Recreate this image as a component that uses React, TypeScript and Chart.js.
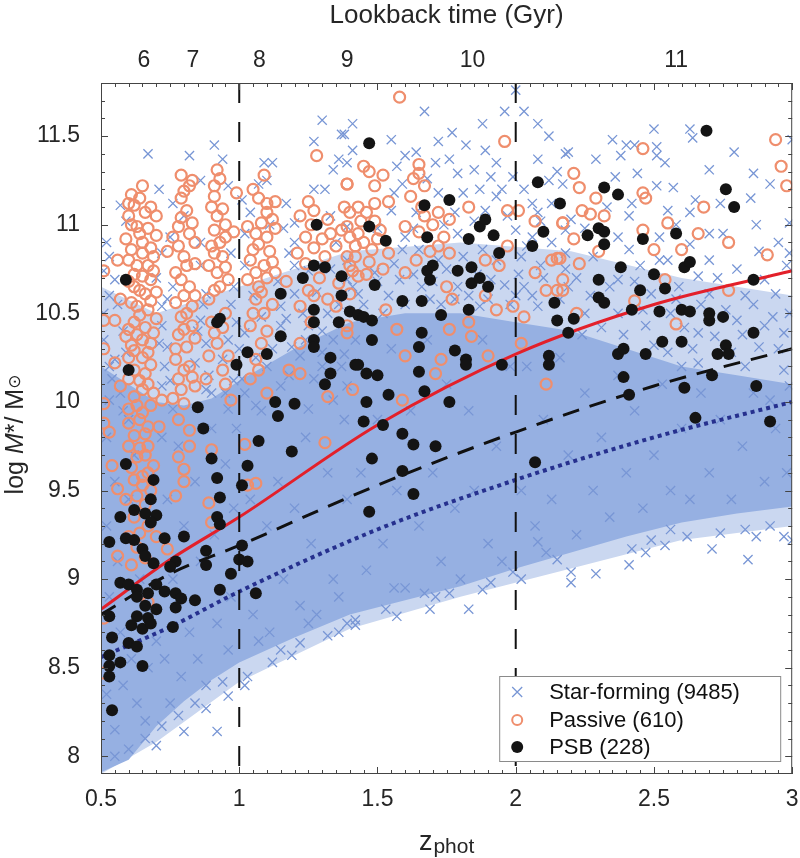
import { useEffect, useRef } from "react";
import { Chart, registerables } from "chart.js";

Chart.register(...registerables);

// axis ticks
const zTicks = [0.5, 1, 1.5, 2, 2.5, 3];
const massTicks = [8, 8.5, 9, 9.5, 10, 10.5, 11, 11.5];
const lookbackZ = [0.655, 0.832, 1.073, 1.39, 1.844, 2.58];
const lookbackLabels = ["6", "7", "8", "9", "10", "11"];
const epochBreaks = [1, 2];

const seriesNames = ["Star-forming (9485)", "Passive (610)", "PSB (228)"];

// dense core of the star-forming cloud (upper / lower edge)
const sfCoreZ = [0.5, 0.6, 0.7, 0.8, 0.9, 1.0, 1.2, 1.4, 1.6, 1.8, 2.0, 2.2, 2.4, 2.6, 2.8, 3.0];
const sfCoreHigh = [10.2, 10.1, 10.0, 9.98, 10.02, 10.12, 10.3, 10.45, 10.5, 10.5, 10.45, 10.4, 10.3, 10.2, 10.15, 10.1];
const sfCoreLow = [7.91, 7.98, 8.17, 8.31, 8.43, 8.53, 8.67, 8.8, 8.88, 8.96, 9.06, 9.15, 9.24, 9.32, 9.37, 9.41];

// looser outskirts of the star-forming cloud
const sfHaloZ = [0.5, 0.7, 1.0, 1.4, 1.8, 2.2, 2.6, 3.0];
const sfHaloHigh = [10.65, 10.5, 10.65, 10.85, 10.9, 10.85, 10.7, 10.6];
const sfHaloLow = [7.9, 8.08, 8.42, 8.72, 8.9, 9.06, 9.22, 9.3];

// mass completeness curves
const curveZ = [0.5, 0.75, 1, 1.5, 2, 2.5, 3];
const redLimit = [8.83, 9.11, 9.35, 9.87, 10.27, 10.55, 10.74];
const dashedLimit = [8.8, 9.03, 9.19, 9.53, 9.83, 10.09, 10.3];
const dottedLimit = [8.56, 8.73, 8.93, 9.28, 9.56, 9.8, 10.0];

// star-forming galaxies (outskirts and a sample inside the dense core)
const starForming = [
  [0.67,11.4],[0.82,11.39],[0.91,11.45],[0.94,11.37],[0.96,11.22],[1.3,11.59],[1.27,11.47],[1.38,11.51],[1.36,11.37],[1.34,11.31],
  [1.09,11.35],[1.12,11.35],[1.07,11.23],[1.1,11.25],[1.27,11.2],[1.31,11.2],[0.57,11.11],[0.59,11.02],[0.76,11.12],[0.8,11.05],
  [1.01,11.14],[1.04,11.07],[1.17,11.12],[1.2,11.01],[1.33,11.05],[1.39,10.99],[0.51,10.74],[0.55,10.69],[0.72,10.84],[0.86,10.77],
  [0.97,10.84],[1.02,10.77],[1.18,10.84],[1.2,10.77],[0.53,10.6],[0.72,10.54],[0.76,10.65],[0.88,10.61],[0.98,10.65],[1.15,10.54],
  [1.2,10.61],[1.32,10.5],[1.39,10.69],[0.51,10.5],[0.72,10.43],[0.86,10.46],[1.02,10.39],[1.15,10.43],[1.25,10.43],[1.34,10.35],
  [0.51,10.35],[0.74,10.31],[0.88,10.33],[0.96,10.35],[1.19,10.31],[1.3,10.28],[0.55,10.24],[0.73,10.2],[0.84,10.22],[0.94,10.24],
  [1.1,10.2],[1.22,10.26],[1.37,10.2],[0.54,10.13],[0.72,10.09],[0.88,10.07],[1.01,10.13],[1.15,10.09],[1.27,10.13],[1.39,10.09],
  [0.53,10.01],[0.76,9.96],[0.96,9.96],[1.06,9.98],[1.25,9.96],[1.34,10.01],
  [1.67,11.64],[1.96,11.64],[2.03,11.64],[2.0,11.76],[1.41,11.57],[1.55,11.48],[1.77,11.52],[1.72,11.47],[1.82,11.45],[1.88,11.57],
  [2.08,11.57],[2.12,11.5],[1.37,11.51],[1.41,11.42],[1.6,11.39],[1.64,11.41],[1.89,11.42],[1.93,11.35],[2.08,11.37],[2.18,11.4],
  [1.39,11.35],[1.57,11.33],[1.71,11.35],[1.76,11.37],[1.79,11.29],[1.85,11.31],[1.91,11.27],[1.99,11.27],[2.03,11.2],[2.12,11.25],
  [1.59,11.23],[1.72,11.18],[1.87,11.2],[1.93,11.16],[2.06,11.12],[2.13,11.12],[1.55,11.08],[1.64,11.07],[1.78,11.07],[1.89,11.08],
  [2.08,11.07],[2.18,10.97],[1.6,10.93],[1.79,10.95],[2.0,10.97],[2.06,10.93],[1.59,10.86],[1.72,10.8],[1.88,10.86],[2.02,10.82],
  [2.09,10.77],[2.18,10.84],[1.39,10.8],[1.49,10.73],[1.58,10.69],[1.66,10.65],[1.79,10.65],[1.91,10.69],[2.03,10.65],[2.19,10.65],
  [1.43,10.61],[1.54,10.6],[1.69,10.58],[1.87,10.54],[2.0,10.6],[2.08,10.54],
  [2.5,11.54],[2.63,11.54],[2.64,11.49],[2.35,11.48],[2.4,11.45],[2.43,11.45],[2.51,11.44],[2.19,11.41],[2.79,11.41],[2.29,11.37],
  [2.38,11.39],[2.51,11.39],[2.54,11.35],[2.7,11.31],[2.86,11.29],[2.92,11.23],[3.0,11.48],[2.17,11.23],[2.36,11.27],[2.44,11.29],
  [2.51,11.22],[2.57,11.21],[2.74,11.12],[2.85,11.15],[2.42,11.12],[2.65,11.14],[2.2,11.03],[2.41,11.05],[2.55,11.08],[2.63,11.07],
  [2.7,10.95],[2.99,11.01],[2.37,10.93],[2.52,10.93],[2.41,10.86],[2.63,10.89],[2.7,10.8],[2.99,10.84],[2.45,10.77],[2.55,10.8],
  [2.66,10.71],[2.8,10.75],[2.9,10.69],[2.98,10.77],[2.37,10.69],[2.49,10.61],[2.59,10.65],[2.7,10.61],[2.83,10.6],[2.94,10.61],
  [2.99,10.5],[2.27,10.6],[2.37,10.5],[2.56,10.5],[2.8,10.46],[2.9,10.43],[2.47,10.43],[2.66,10.39],[2.88,10.31],[2.97,10.39],
  [2.72,10.37],[2.55,10.28],[2.83,10.2],[2.97,10.18],[2.66,10.22],[2.92,10.01],[2.99,10.09],
  [1.42,8.74],[1.42,8.77],[1.36,8.7],[1.53,8.83],[1.57,8.79],[1.69,8.83],[1.67,8.92],[1.83,8.83],[1.76,8.92],[1.88,8.94],
  [1.91,8.98],[2.02,9.0],[1.99,9.04],[2.11,9.15],[2.15,9.11],[2.2,9.04],[2.2,8.98],[2.29,9.03],[2.41,9.08],[2.42,9.17],
  [2.47,9.15],[2.54,9.19],[2.62,9.24],[2.71,9.17],[2.74,9.26],[2.84,9.11],[2.87,9.24],[2.83,9.28],[2.92,9.3],[2.97,9.24],
  [3.0,9.22],[2.08,9.21],[2.49,9.22],[2.56,9.28],
  [0.8,8.14],[0.92,8.14],[0.96,8.34],[0.94,8.42],[1.03,8.45],[1.12,8.53],[1.19,8.57],[1.22,8.64],[1.32,8.68],[1.39,8.75],
  [0.84,8.3],[0.78,8.23],[0.72,8.17],[0.66,8.1],[0.6,8.04],[0.55,8.0],[0.7,8.06],[0.88,8.27],[1.02,8.4],[1.15,8.6],
  [0.52,10.9],[0.56,10.55],[0.58,10.4],[0.53,10.2],[0.57,10.05],[0.7,10.7],[0.74,10.58],[0.71,10.33],[0.75,10.12],[0.86,10.9],
  [0.87,10.55],[0.85,10.4],[0.89,10.15],[0.9,10.05],[0.97,10.55],[0.99,10.45],[1.0,10.3],[0.98,10.12],[0.95,10.05],[0.75,10.93],
  [0.71,11.2],[0.86,11.25],[0.53,10.82],[0.59,10.28],
  [1.05,10.6],[1.08,10.48],[1.12,10.3],[1.14,10.68],[1.17,10.47],[1.2,10.9],[1.23,10.5],[1.25,10.74],[1.28,10.62],[1.3,10.4],
  [1.33,10.75],[1.36,10.55],[1.38,10.27],[1.02,10.95],[1.16,10.98],[1.24,10.35],[1.35,10.9],[1.06,10.25],[1.11,11.0],
  [1.41,10.65],[1.45,10.55],[1.5,10.68],[1.52,10.5],[1.56,10.78],[1.6,10.55],[1.63,10.72],[1.65,10.86],[1.7,10.68],[1.73,10.55],
  [1.75,10.75],[1.78,10.58],[1.81,10.82],[1.83,10.6],[1.86,10.72],[1.9,10.58],[1.93,10.8],[1.96,10.66],[1.98,10.55],[2.01,10.72],
  [2.04,10.88],[2.06,10.6],[2.1,10.7],[2.13,10.9],[2.16,10.58],[2.18,10.75],[1.5,10.98],[1.63,10.98],[1.74,11.0],[1.85,11.02],
  [1.97,11.05],[2.09,11.02],[1.56,11.18],[1.68,11.26],[1.81,11.18],[1.95,11.2],[2.15,11.3],
  [2.22,10.7],[2.25,10.5],[2.28,10.82],[2.31,10.42],[2.34,10.65],[2.39,10.38],[2.43,10.68],[2.46,10.52],[2.5,10.32],[2.52,10.8],
  [2.58,10.58],[2.61,10.42],[2.64,10.3],[2.67,10.55],[2.73,10.7],[2.76,10.52],[2.78,10.28],[2.82,10.38],[2.86,10.55],[2.88,10.85],
  [2.93,10.48],[2.95,10.3],[2.25,10.98],[2.33,11.1],[2.58,11.0],[2.75,10.95],[2.87,11.0],[2.95,10.9],[2.24,10.38],[2.6,10.2],
  [0.52,9.8],[0.55,9.55],[0.52,9.3],[0.56,9.1],[0.53,8.9],[0.57,8.7],[0.52,8.35],[0.55,8.15],[0.58,8.4],[0.6,9.9],
  [0.62,9.7],[0.6,9.45],[0.64,9.0],[0.61,8.55],[0.63,8.3],[0.67,8.5],[0.66,8.2],[0.69,9.6],[0.7,8.65],[0.58,9.95],
  [0.72,9.8],[0.74,9.45],[0.76,9.0],[0.73,8.55],[0.75,8.3],[0.78,9.75],[0.8,9.3],[0.82,8.7],[0.79,8.45],[0.84,9.55],
  [0.86,9.1],[0.85,8.55],[0.88,8.4],[0.9,9.85],[0.91,9.25],[0.92,8.75],[0.95,9.65],[0.97,8.9],[0.96,8.6],[0.99,9.85],[0.98,9.4],
  [1.02,10.05],[1.04,9.45],[1.05,8.8],[1.08,9.95],[1.1,9.3],[1.11,8.7],[1.14,9.55],[1.16,9.0],[1.18,10.15],[1.2,9.4],
  [1.22,8.85],[1.24,9.8],[1.26,9.2],[1.28,8.8],[1.3,10.2],[1.32,9.6],[1.34,9.0],[1.36,8.9],[1.38,9.9],[1.39,9.45],[1.07,8.65],[1.25,8.75],
  [1.42,10.35],[1.44,9.6],[1.46,9.05],[1.5,9.9],[1.52,9.2],[1.55,10.3],[1.57,9.5],[1.6,8.95],[1.62,9.95],[1.65,9.3],
  [1.68,10.35],[1.7,9.6],[1.73,9.1],[1.75,10.1],[1.78,9.4],[1.8,9.0],[1.83,9.95],[1.85,9.5],[1.88,10.35],[1.9,9.2],
  [1.93,9.75],[1.95,9.1],[1.98,10.2],[1.56,8.95],[1.71,8.9],
  [2.02,9.5],[2.04,10.2],[2.07,9.3],[2.1,9.9],[2.13,9.45],[2.16,10.25],[2.19,9.7],[2.22,9.25],[2.25,10.05],[2.28,9.5],
  [2.31,9.8],[2.34,9.35],[2.37,10.15],[2.4,9.6],[2.43,9.95],[2.46,9.4],[2.5,9.7],[2.53,10.1],[2.56,9.5],[2.6,9.85],
  [2.63,9.45],[2.67,10.05],[2.7,9.6],[2.74,9.9],[2.78,9.45],[2.82,9.75],[2.86,10.05],[2.9,9.55],[2.94,9.85],[2.98,9.6],
];

const passive = [
  [0.65,11.22],[0.61,11.17],[0.62,11.11],[0.66,11.07],[0.6,11.05],[0.7,11.05],[0.63,10.99],[0.67,10.98],[0.59,10.92],[0.7,10.94],
  [0.65,10.9],[0.56,10.8],[0.65,10.84],[0.63,10.77],[0.67,10.77],[0.65,10.71],[0.68,10.69],[0.62,10.65],[0.66,10.61],[0.7,10.62],
  [0.57,10.58],[0.63,10.54],[0.67,10.52],[0.55,10.46],[0.62,10.45],[0.66,10.42],[0.59,10.37],[0.65,10.35],[0.68,10.33],[0.51,10.3],
  [0.62,10.29],[0.65,10.25],[0.55,10.22],[0.62,10.18],[0.66,10.16],[0.57,10.09],[0.65,10.07],[0.69,10.05],[0.51,9.99],[0.63,9.98],
  [0.72,10.01],[0.51,10.74],[0.51,10.46],
  [0.6,11.12],[0.64,11.15],[0.68,11.1],[0.61,11.0],[0.64,10.95],[0.68,10.87],[0.61,10.86],[0.6,10.8],[0.69,10.82],[0.62,10.72],
  [0.69,10.74],[0.6,10.68],[0.64,10.63],[0.68,10.57],[0.61,10.56],[0.64,10.49],[0.7,10.47],[0.6,10.41],[0.63,10.38],[0.69,10.39],
  [0.61,10.32],[0.67,10.28],[0.6,10.25],[0.68,10.21],[0.64,10.12],[0.6,10.13],[0.67,10.1],[0.62,10.03],[0.68,9.98],[0.6,9.96],
  [0.64,9.9],[0.6,9.88],[0.66,9.82],[0.6,9.75],[0.64,9.74],[0.66,9.7],[0.61,9.63],[0.67,9.6],[0.62,9.56],[0.68,9.5],
  [0.63,9.47],[0.66,9.42],[0.62,9.35],[0.67,9.3],[0.64,9.26],[0.63,9.18],[0.66,9.12],[0.61,9.08],
  [0.79,11.28],[0.83,11.25],[0.82,11.22],[0.79,11.15],[0.81,11.08],[0.78,10.99],[0.82,10.95],[0.76,10.93],[0.84,10.9],[0.74,10.85],
  [0.8,10.82],[0.84,10.78],[0.77,10.73],[0.82,10.65],[0.8,10.6],[0.83,10.54],[0.79,10.48],[0.83,10.43],[0.78,10.38],[0.81,10.31],
  [0.77,10.24],[0.82,10.2],[0.78,10.13],[0.84,10.09],[0.76,10.02],[0.8,9.99],[0.88,10.13],
  [0.8,11.19],[0.79,11.04],[0.83,11.01],[0.78,10.88],[0.81,10.77],[0.79,10.69],[0.84,10.6],[0.77,10.56],[0.81,10.5],[0.8,10.41],
  [0.84,10.36],[0.77,10.3],[0.8,10.18],[0.83,10.14],[0.79,10.07],[0.78,9.9],[0.82,9.84],[0.8,9.55],
  [0.92,11.31],[0.91,11.22],[0.91,11.16],[0.94,11.09],[0.92,11.05],[0.91,10.97],[0.95,10.93],[0.9,10.88],[0.98,10.96],[0.94,10.82],
  [0.89,10.77],[0.92,10.73],[0.96,10.69],[0.91,10.63],[0.99,11.18],[0.89,10.58],[0.95,10.5],[0.91,10.39],[0.96,10.26],[0.94,10.18],
  [0.97,10.01],[0.89,10.26],
  [0.93,11.26],[0.9,11.1],[0.95,11.0],[0.93,10.9],[0.91,10.84],[0.95,10.76],[0.93,10.65],[0.9,10.45],[0.94,10.42],[0.92,10.33],[0.95,10.1],
  [1.09,11.28],[1.07,11.15],[1.1,11.12],[1.13,11.13],[1.1,11.07],[1.08,11.01],[1.13,10.98],[1.03,10.99],[1.07,10.89],[1.11,10.85],
  [1.04,10.8],[1.09,10.77],[1.13,10.73],[1.03,10.69],[1.07,10.65],[1.17,10.68],[1.06,10.58],[1.09,10.5],[1.04,10.43],[1.08,10.33],
  [1.06,10.24],[1.04,10.13],[1.1,10.05],[1.18,10.18],
  [1.05,11.2],[1.12,11.03],[1.06,10.95],[1.1,10.93],[1.05,10.86],[1.12,10.79],[1.06,10.73],[1.1,10.7],[1.08,10.62],[1.12,10.55],
  [1.05,10.5],[1.1,10.4],[1.07,10.18],
  [1.28,11.39],[1.25,11.13],[1.22,11.05],[1.27,11.08],[1.39,11.23],[1.38,11.1],[1.32,11.03],[1.24,10.93],[1.3,10.92],[1.37,10.97],
  [1.21,10.84],[1.31,10.82],[1.39,10.82],[1.25,10.63],[1.22,10.54],[1.32,10.58],[1.4,10.61],[1.22,10.33],[1.39,10.39],[1.32,10.03],
  [1.22,10.16],
  [1.26,11.0],[1.33,10.95],[1.27,10.87],[1.35,10.88],[1.24,10.78],[1.29,10.7],[1.36,10.67],[1.27,10.6],[1.35,10.54],[1.26,10.45],
  [0.65,9.94],[0.67,9.86],[0.62,9.81],[0.67,9.75],[0.63,9.69],[0.69,9.64],[0.65,9.58],[0.65,9.53],[0.53,9.83],[0.54,9.64],
  [0.56,9.51],[0.59,9.45],[0.78,9.69],[0.8,9.62],[0.77,9.47],[0.82,9.75],[0.71,9.86],[0.9,9.73],[1.03,9.53],[1.02,9.76],
  [1.06,9.54],[1.31,9.77],[0.6,9.24],[0.7,9.24],[0.51,8.78],[0.51,8.47],[0.56,9.13],[0.67,8.87],[0.74,9.17],[0.51,9.88],
  [0.89,9.43],[0.9,9.32],
  [1.58,11.72],[1.96,11.47],[1.47,11.3],[1.52,11.28],[1.39,11.23],[1.49,11.22],[1.65,11.34],[1.63,11.26],[1.67,11.22],[1.43,11.1],
  [1.4,11.07],[1.46,11.07],[1.54,11.13],[1.39,10.99],[1.43,10.95],[1.51,10.97],[1.42,10.88],[1.48,10.86],[1.54,10.84],[1.6,10.99],
  [1.67,11.05],[1.72,11.07],[1.76,11.03],[1.83,11.1],[1.97,11.08],[2.01,11.08],[2.07,11.02],[2.13,10.8],[2.15,10.81],[2.17,11.01],
  [1.64,10.8],[1.72,10.88],[1.76,10.84],[1.89,10.8],[1.94,10.77],[1.97,10.88],[1.43,10.71],[1.4,10.77],[1.52,10.75],[1.6,10.73],
  [1.75,10.65],[1.77,10.58],[1.89,10.6],[1.93,10.52],[1.99,10.54],[2.03,10.48],[2.07,10.73],[2.11,10.63],[2.15,10.63],[1.53,10.52],
  [1.57,10.41],[1.39,10.43],[1.76,10.41],[1.83,10.45],[1.84,10.37],[1.9,10.26],[2.02,10.33],[2.11,10.1],[1.6,10.26],[1.73,10.24],
  [1.41,10.07],[1.59,10.01],[1.71,10.16],[1.45,11.33],[1.49,11.12],
  [1.4,10.93],[1.45,10.9],[1.42,10.82],[1.47,10.79],[1.5,10.92],[1.44,11.02],[1.49,11.02],[1.41,10.74],[1.46,10.72],
  [1.65,11.29],[1.62,11.16],[1.66,11.1],[1.7,11.0],[1.65,10.96],[1.69,10.85],[1.74,10.93],
  [2.94,11.48],[2.96,11.33],[2.98,11.22],[2.46,11.43],[2.21,11.29],[2.23,11.21],[2.29,11.15],[2.24,11.08],[2.27,11.06],[2.32,11.05],
  [2.46,11.18],[2.47,11.15],[2.17,11.01],[2.21,10.92],[2.3,10.85],[2.16,10.81],[2.23,10.78],[2.46,10.97],[2.5,10.86],[2.55,11.01],
  [2.6,10.86],[2.66,10.95],[2.68,11.1],[2.77,10.9],[2.91,10.83],[2.17,10.69],[2.17,10.63],[2.54,10.69],[2.43,10.57],[2.77,10.63],
  [2.22,10.5],[2.58,10.44],
];

const psb = [
  [1.28,11.0],[0.59,10.69],[1.27,10.77],[1.31,10.76],[1.23,10.7],[1.37,10.71],[1.15,10.61],[1.37,10.6],[1.27,10.52],[1.27,10.45],
  [1.36,10.45],[1.4,10.51],[0.93,10.47],[0.92,10.45],[1.15,10.37],[1.27,10.35],[1.27,10.31],[1.03,10.28],[1.1,10.27],[1.33,10.25],
  [0.6,10.18],[0.99,10.21],[1.33,10.16],[1.31,10.1],[0.85,9.97],[1.13,10.0],[1.2,9.99],[1.14,9.92],[1.42,10.21],
  [0.87,9.85],[1.07,9.78],[1.19,9.72],[0.59,9.65],[0.9,9.68],[1.03,9.64],[0.69,9.56],[0.92,9.57],[1.01,9.53],[0.68,9.45],
  [0.93,9.46],[0.62,9.39],[0.66,9.37],[0.7,9.36],[0.57,9.35],[0.68,9.32],[0.92,9.35],[0.93,9.31],[0.53,9.21],[0.59,9.23],
  [0.62,9.22],[0.73,9.23],[0.8,9.24],[0.65,9.17],[0.66,9.13],[0.69,9.09],[0.88,9.16],[0.88,9.08],[1.01,9.19],[1.0,9.11],
  [1.03,9.1],[0.97,9.03],[0.77,9.1],[0.75,9.07],[0.57,8.98],[0.6,8.97],[0.63,8.94],[0.67,8.92],[0.7,8.97],[0.73,8.93],
  [0.77,8.92],[0.79,8.89],[0.77,8.84],[0.84,8.88],[0.93,8.94],[1.06,8.92],[0.63,8.9],[0.66,8.85],[0.7,8.83],[0.63,8.79],
  [0.67,8.78],[0.61,8.74],[0.65,8.72],[0.68,8.75],[0.53,8.79],[0.54,8.67],[0.76,8.73],[0.6,8.64],[0.63,8.62],[0.53,8.57],
  [0.57,8.53],[0.53,8.51],[0.53,8.45],[0.65,8.51],[0.54,8.26],
  [1.47,11.46],[2.08,11.24],[2.16,11.12],[1.67,11.11],[1.76,11.14],[1.47,10.99],[1.53,10.91],[1.68,10.93],[1.87,10.99],[1.89,11.03],
  [1.83,10.92],[1.92,10.94],[1.94,10.84],[2.1,10.96],[2.06,10.88],[1.7,10.77],[1.68,10.74],[1.69,10.69],[1.79,10.74],[1.84,10.76],
  [1.84,10.67],[1.87,10.7],[1.9,10.65],[1.49,10.66],[1.59,10.57],[1.66,10.57],[1.43,10.49],[1.45,10.48],[1.48,10.46],[1.73,10.49],
  [1.83,10.52],[1.48,10.35],[2.14,10.56],[2.15,10.46],[2.12,10.26],[2.12,10.21],[1.66,10.39],[1.65,10.31],[1.78,10.29],[1.82,10.24],
  [1.82,10.21],[1.95,10.21],[1.43,10.21],[1.46,10.16],[1.5,10.15],[1.65,10.17],[1.54,10.04],[1.67,10.06],[1.46,10.0],[1.76,10.0],
  [1.45,9.89],[1.52,9.87],[1.59,9.82],[1.63,9.76],[1.71,9.75],[2.19,10.39],
  [2.69,11.53],[2.76,11.2],[2.79,11.1],[2.32,11.21],[2.37,11.17],[2.26,10.94],[2.3,10.98],[2.32,10.96],[2.32,10.89],[2.46,10.92],
  [2.58,10.95],[2.38,10.76],[2.61,10.76],[2.63,10.79],[2.3,10.69],[2.5,10.72],[2.45,10.63],[2.54,10.64],[2.3,10.59],[2.32,10.56],
  [2.21,10.47],[2.42,10.52],[2.52,10.51],[2.6,10.52],[2.63,10.51],[2.7,10.46],[2.7,10.5],[2.75,10.48],[2.86,10.69],[2.86,10.39],
  [2.37,10.27],[2.39,10.3],[2.47,10.27],[2.53,10.34],[2.6,10.34],[2.73,10.27],[2.76,10.32],[2.77,10.27],[2.39,10.14],[2.41,10.04],
  [2.61,10.08],[2.71,10.15],[2.87,10.09],[2.65,9.91],[2.92,9.89],
  [1.48,9.68],[1.59,9.61],[1.63,9.48],[1.47,9.38],[2.07,9.66],
];

const FONT = '"Liberation Sans", Arial, Helvetica, sans-serif';
const INK = "#262626";
const SF_COLOR = "rgb(120,150,213)";
const SF_CORE = "rgb(150,176,226)";
const SF_HALO = "rgb(202,215,240)";
const PASSIVE_COLOR = "#ef8e6d";
const PSB_COLOR = "#141414";

const toPoints = (pairs: number[][]) => pairs.map(([x, y]) => ({ x, y }));
const toCurve = (xs: number[], ys: number[]) => xs.map((x, i) => ({ x, y: ys[i] }));

const bandEdge = (label: string, xs: number[], ys: number[], fill: any, color: string, order: number) => ({
  type: "line",
  label,
  data: toCurve(xs, ys),
  fill,
  backgroundColor: color,
  borderColor: "rgba(0,0,0,0)",
  borderWidth: 0,
  pointRadius: 0,
  order,
});

const decorPlugin = {
  id: "decor",
  afterDatasetsDraw(chart: any) {
    const { ctx, chartArea: a, scales } = chart;
    const xs = scales.x;
    ctx.save();
    // dashed redshift dividers
    ctx.strokeStyle = "#111";
    ctx.lineWidth = 2;
    ctx.setLineDash([20, 19]);
    for (const z of epochBreaks) {
      const px = xs.getPixelForValue(z);
      ctx.beginPath();
      ctx.moveTo(px, a.top);
      ctx.lineTo(px, a.bottom);
      ctx.stroke();
    }
    ctx.setLineDash([]);

    // legend box
    const lx = a.right - 293;
    const ly = a.bottom - 98;
    ctx.fillStyle = "#fff";
    ctx.fillRect(lx, ly, 281, 85);
    ctx.strokeStyle = "#8a8a8a";
    ctx.lineWidth = 1;
    ctx.strokeRect(lx + 0.5, ly + 0.5, 281, 85);
    const rows = [ly + 16, ly + 44, ly + 71];
    const mx = lx + 18;
    ctx.strokeStyle = SF_COLOR;
    ctx.lineWidth = 1.3;
    ctx.beginPath();
    ctx.moveTo(mx - 5, rows[0] - 5);
    ctx.lineTo(mx + 5, rows[0] + 5);
    ctx.moveTo(mx - 5, rows[0] + 5);
    ctx.lineTo(mx + 5, rows[0] - 5);
    ctx.stroke();
    ctx.strokeStyle = PASSIVE_COLOR;
    ctx.lineWidth = 2;
    ctx.beginPath();
    ctx.arc(mx, rows[1], 5, 0, Math.PI * 2);
    ctx.stroke();
    ctx.fillStyle = PSB_COLOR;
    ctx.beginPath();
    ctx.arc(mx, rows[2], 6, 0, Math.PI * 2);
    ctx.fill();
    ctx.fillStyle = "#111";
    ctx.font = `22px ${FONT}`;
    ctx.textAlign = "left";
    ctx.textBaseline = "middle";
    seriesNames.forEach((name, i) => ctx.fillText(name, lx + 50, rows[i] + 1));
    ctx.restore();
  },
  afterDraw(chart: any) {
    const { ctx, chartArea: a, scales } = chart;
    const xs = scales.x;
    const ys = scales.y;
    ctx.save();
    ctx.strokeStyle = "#444";
    ctx.lineWidth = 1;
    ctx.strokeRect(a.left + 0.5, a.top + 0.5, a.right - a.left - 1, a.bottom - a.top - 1);
    ctx.beginPath();
    for (let i = 0; i <= 50; i++) {
      const px = Math.round(xs.getPixelForValue(0.5 + i * 0.05)) + 0.5;
      const len = i % 10 === 0 ? 7 : 4;
      ctx.moveTo(px, a.bottom);
      ctx.lineTo(px, a.bottom - len);
      ctx.moveTo(px, a.top);
      ctx.lineTo(px, a.top + len);
    }
    for (let k = 80; k <= 118; k++) {
      const py = Math.round(ys.getPixelForValue(k / 10)) + 0.5;
      const len = k % 5 === 0 ? 7 : 4;
      ctx.moveTo(a.left, py);
      ctx.lineTo(a.left + len, py);
      ctx.moveTo(a.right, py);
      ctx.lineTo(a.right - len, py);
    }
    ctx.stroke();

    ctx.fillStyle = INK;
    ctx.font = `26px ${FONT}`;
    ctx.textAlign = "center";
    ctx.textBaseline = "middle";
    ctx.fillText("Lookback time (Gyr)", (a.left + a.right) / 2, 16);

    // x title: z_phot
    ctx.textAlign = "left";
    ctx.textBaseline = "alphabetic";
    const zFont = `27px ${FONT}`;
    const subFont = `21px ${FONT}`;
    ctx.font = zFont;
    const wz = ctx.measureText("z").width;
    ctx.font = subFont;
    const wp = ctx.measureText("phot").width;
    const sx = (a.left + a.right) / 2 - (wz + 1 + wp) / 2;
    ctx.font = zFont;
    ctx.fillText("z", sx, 850);
    ctx.font = subFont;
    ctx.fillText("phot", sx + wz + 1, 853);

    // y title: log M*/ M⊙
    const parts = [
      { t: "log ", f: `25px ${FONT}`, dy: 0 },
      { t: "M", f: `italic 25px ${FONT}`, dy: 0 },
      { t: "*", f: `25px ${FONT}`, dy: 0 },
      { t: "/ M", f: `25px ${FONT}`, dy: 0 },
      { t: "\u2299", f: `17px "DejaVu Sans"`, dy: -3 },
    ];
    let total = 0;
    const widths = parts.map((p) => {
      ctx.font = p.f;
      const w = ctx.measureText(p.t).width;
      total += w;
      return w;
    });
    ctx.translate(23, (a.top + a.bottom) / 2 + 6);
    ctx.rotate(-Math.PI / 2);
    let cx = -total / 2;
    parts.forEach((p, i) => {
      ctx.font = p.f;
      ctx.fillText(p.t, cx, p.dy);
      cx += widths[i];
    });
    ctx.restore();
  },
};

export default function App() {
  const canvasRef = useRef<HTMLCanvasElement>(null);

  useEffect(() => {
    document.body.style.margin = "0";
    const tickFont = { family: FONT, size: 23 };
    const chart = new Chart(canvasRef.current!, {
      type: "scatter",
      data: {
        datasets: [
          bandEdge("halo-high", sfHaloZ, sfHaloHigh, "+1", SF_HALO, 9),
          bandEdge("halo-low", sfHaloZ, sfHaloLow, false, SF_HALO, 10),
          bandEdge("core-high", sfCoreZ, sfCoreHigh, "+1", SF_CORE, 7),
          bandEdge("core-low", sfCoreZ, sfCoreLow, false, SF_CORE, 8),
          {
            label: seriesNames[0],
            data: toPoints(starForming),
            pointStyle: "crossRot",
            pointRadius: 6.5,
            borderColor: SF_COLOR,
            backgroundColor: SF_COLOR,
            borderWidth: 1.3,
            order: 5,
          },
          {
            label: seriesNames[1],
            data: toPoints(passive),
            pointStyle: "circle",
            pointRadius: 5.5,
            borderColor: PASSIVE_COLOR,
            backgroundColor: "rgba(0,0,0,0)",
            borderWidth: 2.2,
            order: 4,
          },
          {
            type: "line",
            label: "red",
            data: toCurve(curveZ, redLimit),
            borderColor: "#e3202a",
            borderWidth: 3,
            pointRadius: 0,
            cubicInterpolationMode: "monotone",
            order: 3,
          },
          {
            type: "line",
            label: "dashed",
            data: toCurve(curveZ, dashedLimit),
            borderColor: "#111",
            borderWidth: 3,
            borderDash: [17, 11],
            pointRadius: 0,
            cubicInterpolationMode: "monotone",
            order: 3,
          },
          {
            type: "line",
            label: "dotted",
            data: toCurve(curveZ, dottedLimit),
            borderColor: "#26308e",
            borderWidth: 4,
            borderDash: [4, 4],
            pointRadius: 0,
            cubicInterpolationMode: "monotone",
            order: 3,
          },
          {
            label: seriesNames[2],
            data: toPoints(psb),
            pointStyle: "circle",
            pointRadius: 6,
            borderColor: PSB_COLOR,
            backgroundColor: PSB_COLOR,
            borderWidth: 0,
            order: 1,
          },
        ],
      },
      options: {
        animation: false,
        responsive: false,
        events: [],
        layout: { padding: { left: 0, right: 5, top: 0, bottom: 0 } },
        plugins: { legend: { display: false }, tooltip: { enabled: false } },
        scales: {
          x: {
            type: "linear",
            position: "bottom",
            min: 0.5,
            max: 3,
            grid: { display: false, drawTicks: false },
            border: { display: false },
            afterBuildTicks: (s: any) => {
              s.ticks = zTicks.map((value) => ({ value }));
            },
            afterFit: (s: any) => {
              s.height = 84;
              s.paddingLeft = 0;
              s.paddingRight = 0;
            },
            ticks: {
              font: tickFont,
              color: INK,
              padding: 12,
              maxRotation: 0,
              autoSkip: false,
              callback: (v: any) => String(v),
            },
          },
          x2: {
            type: "linear",
            position: "top",
            axis: "x",
            min: 0.5,
            max: 3,
            grid: { display: false, drawTicks: false },
            border: { display: false },
            afterBuildTicks: (s: any) => {
              s.ticks = lookbackZ.map((value) => ({ value }));
            },
            afterFit: (s: any) => {
              s.height = 83;
              s.paddingLeft = 0;
              s.paddingRight = 0;
            },
            ticks: {
              font: tickFont,
              color: INK,
              padding: 9,
              maxRotation: 0,
              autoSkip: false,
              callback: (v: any) => lookbackLabels[lookbackZ.indexOf(v)] ?? "",
            },
          },
          y: {
            type: "linear",
            min: 7.9,
            max: 11.8,
            grid: { display: false, drawTicks: false },
            border: { display: false },
            afterBuildTicks: (s: any) => {
              s.ticks = massTicks.map((value) => ({ value }));
            },
            afterFit: (s: any) => {
              s.width = 101;
              s.paddingTop = 0;
              s.paddingBottom = 0;
            },
            ticks: {
              font: tickFont,
              color: INK,
              padding: 21,
              autoSkip: false,
              callback: (v: any) => String(v),
            },
          },
        },
      },
      plugins: [decorPlugin],
    });

    return () => chart.destroy();
  }, []);

  return (
    <div style={{ width: 800, height: 858 }}>
      <canvas ref={canvasRef} width={800} height={858} style={{ display: "block" }}></canvas>
    </div>
  );
}
